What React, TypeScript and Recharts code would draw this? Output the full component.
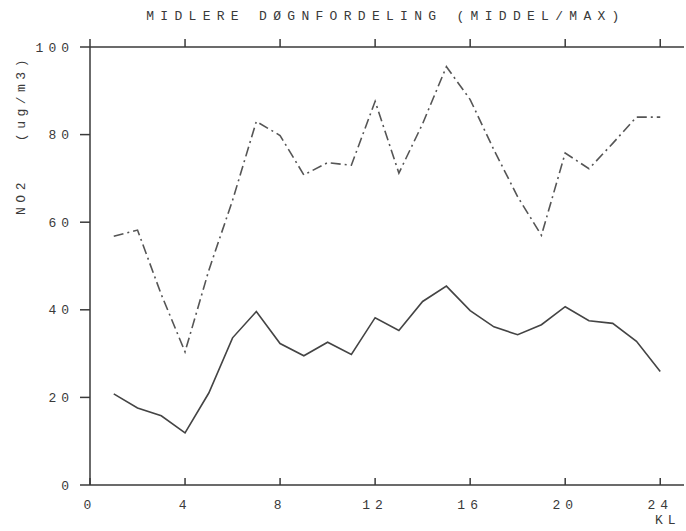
import { LineChart, Line, XAxis, YAxis } from 'recharts';

const hours = [1, 2, 3, 4, 5, 6, 7, 8, 9, 10, 11, 12, 13, 14, 15, 16, 17, 18, 19, 20, 21, 22, 23, 24];
const middel = [20.8, 17.6, 15.8, 11.9, 21, 33.6, 39.6, 32.3, 29.5, 32.6, 29.8, 38.2, 35.3, 41.9, 45.4, 39.8, 36.1, 34.3, 36.6, 40.7, 37.5, 36.9, 32.8, 25.9];
const maks = [56.8, 58.2, 43.5, 30.4, 49, 65, 83, 79.8, 70.8, 73.6, 73, 87.6, 71.2, 82.5, 95.5, 88, 76.5, 65.8, 57, 75.8, 72.2, 78, 84, 84];
const xTicks = [0, 4, 8, 12, 16, 20, 24];
const yTicks = [0, 20, 40, 60, 80, 100];

const data = hours.map((h, i) => ({ kl: h, middel: middel[i], max: maks[i] }));

const font = '"Liberation Mono", "Courier New", monospace';
const ink = '#3a3a3a';
const tickStyle = { fontSize: 13, fill: ink, fontFamily: font, letterSpacing: 5 };

export default function App() {
  return (
    <div style={{ position: 'absolute', left: 0, top: 0, width: 686, height: 531, background: '#fff', fontFamily: font, color: ink }}>
      <div style={{ position: 'absolute', left: 0, width: 772, top: 9, textAlign: 'center', fontSize: 13, letterSpacing: 6.3 }}>
        MIDLERE DØGNFORDELING (MIDDEL/MAX)
      </div>
      <div
        style={{
          position: 'absolute',
          left: 21,
          top: 135,
          transform: 'translate(-50%, -50%) rotate(-90deg)',
          whiteSpace: 'pre',
          fontSize: 13,
          letterSpacing: 4.5,
        }}
      >
        {'NO2   (ug/m3)'}
      </div>
      <div style={{ position: 'absolute', left: 655, top: 513, fontSize: 13, letterSpacing: 5 }}>KL</div>
      <LineChart width={686} height={531} data={data} margin={{ top: 17, right: 2, bottom: 16, left: 30 }}>
        <XAxis
          xAxisId="bottom"
          dataKey="kl"
          type="number"
          domain={[0, 25]}
          ticks={xTicks}
          height={30}
          tickSize={-7}
          tickMargin={22}
          stroke={ink}
          strokeWidth={1.5}
          tick={tickStyle}
          allowDataOverflow
        />
        <XAxis
          xAxisId="top"
          orientation="top"
          dataKey="kl"
          type="number"
          domain={[0, 25]}
          ticks={xTicks}
          height={30}
          tickSize={8}
          tickFormatter={() => ''}
          stroke={ink}
          strokeWidth={1.5}
          allowDataOverflow
        />
        <YAxis
          yAxisId="left"
          domain={[0, 100]}
          ticks={yTicks}
          width={60}
          tickSize={10}
          tickMargin={6}
          stroke={ink}
          strokeWidth={1.5}
          tick={tickStyle}
        />
        <YAxis
          yAxisId="right"
          orientation="right"
          domain={[0, 100]}
          ticks={yTicks}
          width={0}
          tickSize={-4}
          tickFormatter={() => ''}
          stroke={ink}
          strokeWidth={1.5}
        />
        <Line
          xAxisId="bottom"
          yAxisId="left"
          dataKey="middel"
          stroke="#444"
          strokeWidth={1.6}
          dot={false}
          type="linear"
          isAnimationActive={false}
        />
        <Line
          xAxisId="bottom"
          yAxisId="left"
          dataKey="max"
          stroke="#555"
          strokeWidth={1.6}
          strokeDasharray="10 4 2 4"
          dot={false}
          type="linear"
          isAnimationActive={false}
        />
      </LineChart>
    </div>
  );
}
